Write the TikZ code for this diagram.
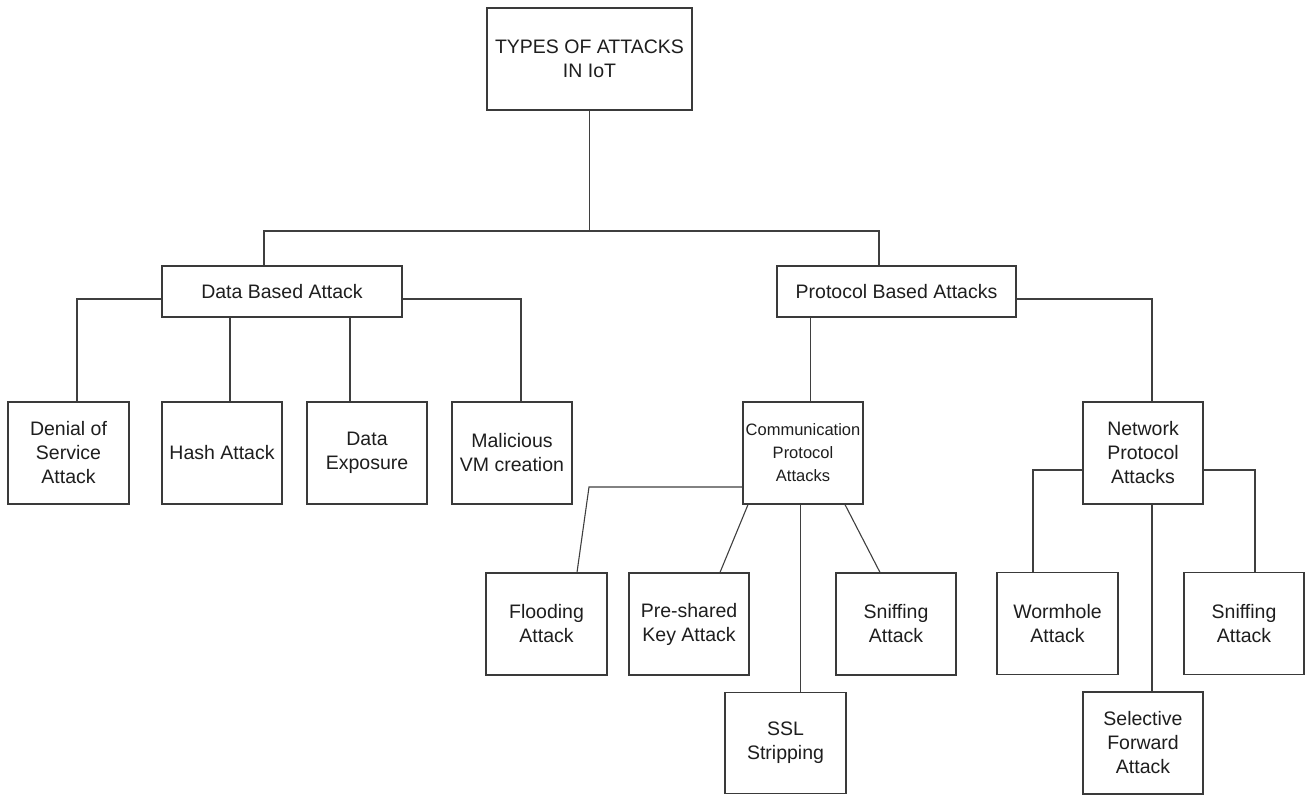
\documentclass[tikz,border=0pt]{standalone}
\usepackage{fontspec}
\setmainfont{Liberation Sans}
\definecolor{boxline}{HTML}{3A3A3A}
\definecolor{wirecol}{HTML}{3F3F3F}
\definecolor{textcol}{HTML}{1E1E1E}
\tikzset{
  box/.style={draw=boxline, line width=1.2pt, fill=white, inner sep=0pt,
    align=center, text=textcol, font=\fontsize{19.5}{24}\selectfont},
  leaf/.style={box, minimum width=120pt, minimum height=102pt},
  mid/.style={box, minimum width=239pt, minimum height=51pt},
  wire/.style={draw=wirecol, line width=1.1pt},
}
\begin{document}
\begin{tikzpicture}[x=1pt,y=-1pt]
\useasboundingbox (0,0) rectangle (1305,795);

% root and the two families
\node[box, minimum width=205pt, minimum height=102pt] (root) at (589.5,59) {TYPES OF ATTACKS\\IN IoT};
\node[mid, minimum width=240pt] (data) at (282,291.5) {Data Based Attack};
\node[mid] (proto) at (896.5,291.5) {Protocol Based Attacks};

% data based attacks
\node[leaf, minimum width=121pt] (dos) at (68.5,453) {Denial of\\Service\\Attack};
\node[leaf] (hash) at (222,453) {Hash Attack};
\node[leaf] (expo) at (367,453) {Data\\Exposure};
\node[leaf] (mal) at (512,453) {Malicious\\VM creation};

% protocol based attacks
\node[leaf, font=\fontsize{16.5}{23}\selectfont] (comm) at (803,453) {Communication\\Protocol\\Attacks};
\node[leaf] (net) at (1143,453) {Network\\Protocol\\Attacks};

% communication protocol attacks
\node[leaf, minimum width=121pt] (flood) at (546.5,624) {Flooding\\Attack};
\node[leaf] (psk) at (689,624) {Pre-shared\\Key Attack};
\node[leaf] (sniffa) at (896,624) {Sniffing\\Attack};
\node[leaf, minimum width=121pt, minimum height=101pt] (ssl) at (785.5,743) {SSL\\Stripping};

% network protocol attacks
\node[leaf, minimum width=121pt] (worm) at (1057.5,623.5) {Wormhole\\Attack};
\node[leaf] (sniffb) at (1244,623.5) {Sniffing\\Attack};
\node[leaf] (sel) at (1143,743) {Selective\\Forward\\Attack};

% root to families
\coordinate (busL) at (264,231);
\coordinate (busR) at (879,231);
\draw[wire] (root.south) -- (root.south |- busL);
\draw[wire] ([xshift=-18pt]data.north) -- (busL) -- (busR) -- ([xshift=-17.5pt]proto.north);

% data based branches
\draw[wire] ([yshift=-7.5pt]data.west) -| ([xshift=8.5pt]dos.north);
\draw[wire] ([xshift=8pt]hash.north) -- ([xshift=8pt]hash.north |- data.south);
\draw[wire] ([xshift=-17pt]expo.north) -- ([xshift=-17pt]expo.north |- data.south);
\draw[wire] ([yshift=-7.5pt]data.east) -| ([xshift=9pt]mal.north);

% protocol based branches
\draw[wire] ([xshift=7.5pt]comm.north) -- ([xshift=7.5pt]comm.north |- proto.south);
\draw[wire] ([yshift=-7.5pt]proto.east) -| ([xshift=9pt]net.north);

% communication protocol branches
\coordinate (fl) at (589,487);
\draw[wire] ([yshift=-34pt]comm.west) -- (fl) -- ([xshift=30.5pt]flood.north);
\draw[wire] ([xshift=-55pt]comm.south) -- ([xshift=31pt]psk.north);
\draw[wire] ([xshift=-2.5pt]comm.south) -- ([xshift=15pt]ssl.north);
\draw[wire] ([xshift=42pt]comm.south) -- ([xshift=-16pt]sniffa.north);

% network protocol branches
\draw[wire] ([yshift=-17pt]net.west) -| ([xshift=-24.5pt]worm.north);
\draw[wire] ([yshift=-17pt]net.east) -| ([xshift=11pt]sniffb.north);
\draw[wire] ([xshift=9pt]net.south) -- ([xshift=9pt]sel.north);
\end{tikzpicture}
\end{document}
